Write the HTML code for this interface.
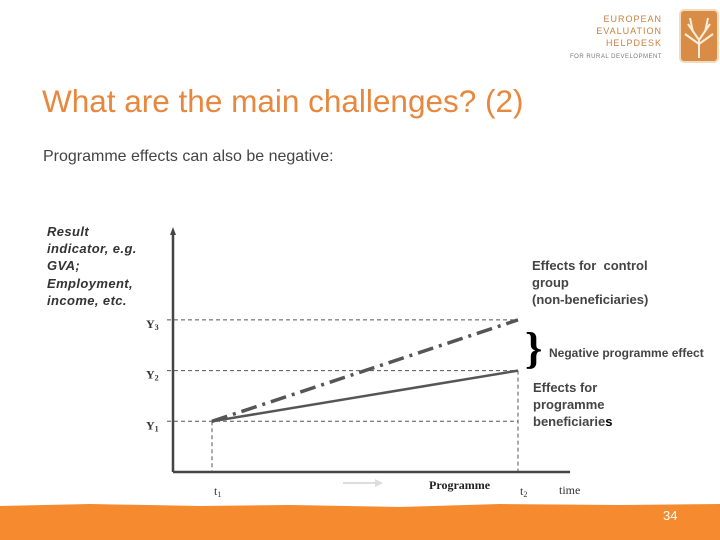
<!DOCTYPE html>
<html><head><meta charset="utf-8"><style>
body{margin:0;width:720px;height:540px;overflow:hidden;background:#fff;font-family:"Liberation Sans",sans-serif;position:relative}
.t{position:absolute;white-space:nowrap}
</style></head><body>
<div class="t" style="left:42px;top:83px;font-size:31.5px;color:#e8873e">What are the main challenges? (2)</div>
<div class="t" style="left:43px;top:148px;font-size:16px;color:#444">Programme effects can also be negative:</div>
<div class="t" style="left:47px;top:223px;font-size:13px;line-height:17.2px;color:#333;font-style:italic;font-weight:bold;letter-spacing:0.4px">Result<br>indicator, e.g.<br>GVA;<br>Employment,<br>income, etc.</div>
<div class="t" style="left:532px;top:257px;font-size:13px;line-height:17px;color:#444;font-weight:bold">Effects for&nbsp; control<br>group<br>(non-beneficiaries)</div>
<div class="t" style="left:549px;top:346px;font-size:12px;color:#444;font-weight:bold">Negative programme effect</div>
<div class="t" style="left:533px;top:379px;font-size:13px;line-height:17px;color:#444;font-weight:bold">Effects for<br>programme<br>beneficiarie<span style="color:#000">s</span></div>
<div class="t" style="left:570px;top:13px;font-size:9px;line-height:12px;color:#c9803f;text-align:right;letter-spacing:1px">EUROPEAN<br>EVALUATION<br>HELPDESK<br><span style="font-size:6px;color:#777;letter-spacing:0.5px">FOR RURAL DEVELOPMENT</span></div>
<svg width="720" height="540" style="position:absolute;left:0;top:0">
<rect x="680" y="10" width="38" height="52" rx="4" fill="#d98c45" stroke="#f2dcc0" stroke-width="2"/>
<path d="M699 58 L699 38 M699 40 L688 24 M699 40 L710 24 M699 44 L685 34 M699 44 L713 34 M693 32 L690 18 M705 32 L708 18" stroke="#fbeedd" stroke-width="2" fill="none"/>
<path d="M0 506 L90 504 L200 506 L290 505 L400 507 L500 504 L620 505 L720 504 L720 540 L0 540Z" fill="#f58a2e"/>
<text x="663" y="520" font-size="13" fill="#fff" font-family="Liberation Sans">34</text>
<g id="plot"></g>
</svg>
<script>
const timeLabels=["t1","t2"];
const timeValues=[0,1];
const yLevelLabels=["Y1","Y2","Y3"];
const yLevelValues=[1,2,3];
const controlSeries=[1,3];
const beneficiarySeries=[1,2];
const NS="http://www.w3.org/2000/svg";
const g=document.getElementById('plot');
const ax0=173,ay0=472;
const xs=v=>212+v*306;
const ys=v=>ay0-v*50.7;
function mk(t,a){const e=document.createElementNS(NS,t);for(const k in a)e.setAttribute(k,a[k]);g.appendChild(e);return e;}
let e;
e=mk('line',{x1:ax0,y1:ay0,x2:ax0,y2:234,stroke:'#444','stroke-width':2.5});


e=mk('path',{d:`M${ax0-3} 235 L${ax0} 227 L${ax0+3} 235Z`,fill:'#444'});


e=mk('line',{x1:ax0,y1:ay0,x2:570,y2:ay0,stroke:'#444','stroke-width':2.5});


yLevelValues.forEach((v,i)=>{
 e=mk('line',{x1:167,y1:ys(v),x2:xs(1),y2:ys(v),stroke:'#555','stroke-width':1,'stroke-dasharray':'4,3'});
 
 
 e=mk('text',{x:146,y:ys(v)+8,'font-size':12,'font-family':'Liberation Serif','font-weight':'bold',fill:'#333'});
 e.textContent=yLevelLabels[i][0];
 const s=document.createElementNS(NS,'tspan');s.setAttribute('font-size','8');s.setAttribute('dy','2');s.textContent=yLevelLabels[i].slice(1);e.appendChild(s);
 
 
});
timeValues.forEach((v,i)=>{
 e=mk('line',{x1:xs(v),y1:ys(beneficiarySeries[i]),x2:xs(v),y2:ay0,stroke:'#555','stroke-width':1,'stroke-dasharray':'4,3'});
 
 
 e=mk('text',{x:xs(v)+2,y:495,'font-size':12,'font-family':'Liberation Serif',fill:'#333'});
 e.textContent=timeLabels[i][0];
 const s=document.createElementNS(NS,'tspan');s.setAttribute('font-size','8');s.setAttribute('dy','2');s.textContent=timeLabels[i].slice(1);e.appendChild(s);
 
 
});
e=mk('line',{x1:xs(timeValues[0]),y1:ys(controlSeries[0]),x2:xs(timeValues[1]),y2:ys(controlSeries[1]),stroke:'#555','stroke-width':3.5,'stroke-dasharray':'16,6,3,6'});


e=mk('line',{x1:xs(timeValues[0]),y1:ys(beneficiarySeries[0]),x2:xs(timeValues[1]),y2:ys(beneficiarySeries[1]),stroke:'#555','stroke-width':2.5});


e=mk('text',{x:525,y:363,'font-size':44,'font-family':'Liberation Serif','font-weight':'bold',fill:'#000'});
e.textContent='}';


e=mk('path',{d:'M343 482 L375 482 L375 479 L383 483 L375 487 L375 484 L343 484Z',fill:'#ddd'});


e=mk('text',{x:429,y:489,'font-size':12,'font-family':'Liberation Serif','font-weight':'bold',fill:'#222'});
e.textContent='Programme';


e=mk('text',{x:559,y:494,'font-size':12,'font-family':'Liberation Serif',fill:'#333'});
e.textContent='time';


</script>
</body></html>
